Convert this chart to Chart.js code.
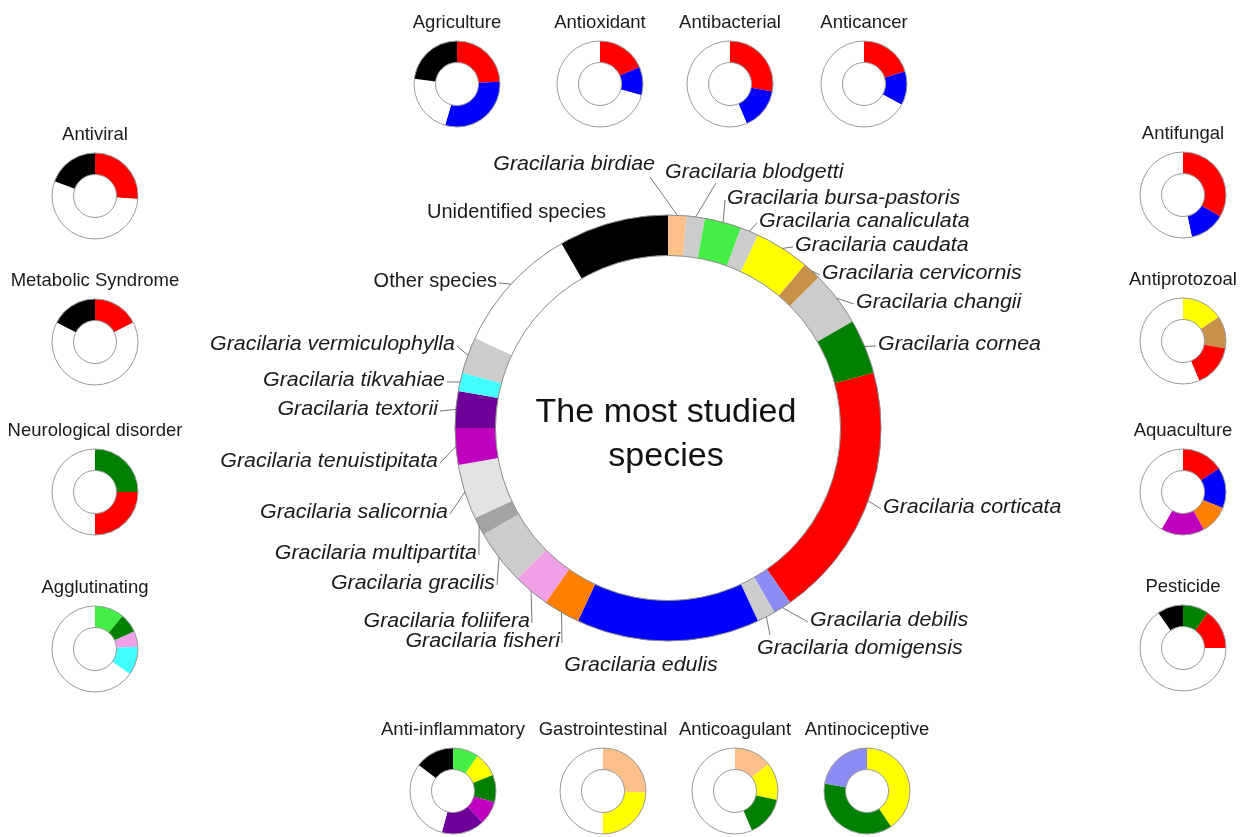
<!DOCTYPE html>
<html><head><meta charset="utf-8">
<script src="https://cdn.jsdelivr.net/npm/chart.js@4.4.1/dist/chart.umd.min.js"></script>
<style>
html,body{margin:0;padding:0;background:#fff;width:1245px;height:837px;overflow:hidden;}
#main{position:absolute;left:0;top:0;}
.small{position:absolute;}
.ttl{position:absolute;width:240px;text-align:center;font:18.5px 'Liberation Sans',Arial,sans-serif;color:#1a1a1a;white-space:nowrap;line-height:20px;}
</style></head><body>
<canvas id="main" width="1245" height="837"></canvas>
<div id="smalls"></div>
<script>
// ---------- main ring data (number of studies per species) ----------
const speciesNames = ['Gracilaria birdiae','Gracilaria blodgetti','Gracilaria bursa-pastoris','Gracilaria canaliculata','Gracilaria caudata','Gracilaria cervicornis','Gracilaria changii','Gracilaria cornea','Gracilaria corticata','Gracilaria debilis','Gracilaria domigensis','Gracilaria edulis','Gracilaria fisheri','Gracilaria foliifera','Gracilaria gracilis','Gracilaria multipartita','Gracilaria salicornia','Gracilaria tenuistipitata','Gracilaria textorii','Gracilaria tikvahiae','Gracilaria vermiculophylla','Other species','Unidentified species'];
const speciesStudies = [1,1,2,1,3,1,3,3,14,1,1,10,2,2,3,1,3,2,2,1,2,7,6];
const speciesColors = ['#FBBF8A','#CCCCCC','#44EE44','#CCCCCC','#FFFF00','#C8914A','#CCCCCC','#008000','#FF0000','#8C8CF5','#CCCCCC','#0000FF','#FF7F00','#EFA0E6','#CCCCCC','#A3A3A3','#E3E3E3','#BF00BF','#6E0099','#44FFFF','#CCCCCC','#FFFFFF','#000000'];
const centerTitle = ['The most studied','species'];

// ---------- small rings: titles and shares (clockwise from top) ----------
const smallTitles = ['Agriculture','Antioxidant','Antibacterial','Anticancer','Antiviral','Metabolic Syndrome','Neurological disorder','Agglutinating','Antifungal','Antiprotozoal','Aquaculture','Pesticide','Anti-inflammatory','Gastrointestinal','Anticoagulant','Antinociceptive'];
const agricultureShares = [87,109,81,83];          const agricultureKeys = ['red','blue','none','black'];
const antioxidantShares = [67,38,255];             const antioxidantKeys = ['red','blue','none'];
const antibacterialShares = [100,57,203];          const antibacterialKeys = ['red','blue','none'];
const anticancerShares = [73,46,241];              const anticancerKeys = ['red','blue','none'];
const antiviralShares = [94,196,70];               const antiviralKeys = ['red','none','black'];
const metabolicShares = [63,234,63];               const metabolicKeys = ['red','none','black'];
const neurologicalShares = [90,90,180];            const neurologicalKeys = ['dgreen','red','none'];
const agglutinatingShares = [40,26,21,39,234];     const agglutinatingKeys = ['lgreen','dgreen','pink','cyan','none'];
const antifungalShares = [120,48,192];             const antifungalKeys = ['red','blue','none'];
const antiprotozoalShares = [56,44,58,202];        const antiprotozoalKeys = ['yellow','brown','red','none'];
const aquacultureShares = [57,55,39,59,150];       const aquacultureKeys = ['red','blue','orange','magenta','none'];
const pesticideShares = [35,55,235,35];            const pesticideKeys = ['dgreen','red','none','black'];
const antiInflammatoryShares = [35,33,37,32,58,112,53]; const antiInflammatoryKeys = ['lgreen','yellow','dgreen','magenta','purple','none','black'];
const gastrointestinalShares = [92,88,180];        const gastrointestinalKeys = ['peach','yellow','none'];
const anticoagulantShares = [51,51,55,203];        const anticoagulantKeys = ['peach','yellow','dgreen','none'];
const antinociceptiveShares = [146,134,80];        const antinociceptiveKeys = ['yellow','dgreen','lavender'];

const smallShares = [agricultureShares,antioxidantShares,antibacterialShares,anticancerShares,antiviralShares,metabolicShares,neurologicalShares,agglutinatingShares,antifungalShares,antiprotozoalShares,aquacultureShares,pesticideShares,antiInflammatoryShares,gastrointestinalShares,anticoagulantShares,antinociceptiveShares];
const smallKeys = [agricultureKeys,antioxidantKeys,antibacterialKeys,anticancerKeys,antiviralKeys,metabolicKeys,neurologicalKeys,agglutinatingKeys,antifungalKeys,antiprotozoalKeys,aquacultureKeys,pesticideKeys,antiInflammatoryKeys,gastrointestinalKeys,anticoagulantKeys,antinociceptiveKeys];

// ---------- styles / layout ----------
const palette = {red:'#FF0000',blue:'#0000FF',black:'#000000',none:'#FFFFFF',dgreen:'#008000',lgreen:'#44EE44',pink:'#EFA0E6',cyan:'#44FFFF',yellow:'#FFFF00',brown:'#C8914A',orange:'#FF7F00',magenta:'#BF00BF',purple:'#6E0099',peach:'#FBBF8A',lavender:'#8C8CF5'};
const smallCenters = [[457,84],[600,84],[730,84],[864,84],[95,196],[95,342],[95,492],[95,649],[1183,195],[1183,341],[1183,492],[1183,648],[453,791],[603,791],[735,791],[867,791]];
// label placement: [x, y, align, lineEndX, lineEndY]  (null line end = no leader)
const labelLayout = [
 [655,164,'right',650,177],[665,172,'left',716,183],[727,198,'left'],[759,221,'left'],[795,245,'left'],
 [822,273,'left'],[856,302,'left'],[878,344,'left'],[883,507,'left'],[810,620,'left'],
 [757,648,'left',770,635],[641,665,'center',null],[560,641,'right'],[530,621,'right'],[495,583,'right'],
 [477,553,'right'],[448,512,'right'],[438,461,'right'],[438,409,'right'],[445,380,'right'],
 [455,344,'right'],[497,281,'right'],[606,212,'right',null]
];
const FONT = "'Liberation Sans', Arial, sans-serif";

const outlinePlugin = {
  id:'outline',
  afterDatasetsDraw(chart, args, opts){
    const arc = chart.getDatasetMeta(0).data[0];
    if(!arc) return;
    const ctx = chart.ctx;
    ctx.save();
    ctx.strokeStyle = opts.color || '#999';
    ctx.lineWidth = opts.width || 1;
    ctx.beginPath(); ctx.arc(arc.x, arc.y, arc.outerRadius, 0, Math.PI*2); ctx.stroke();
    ctx.beginPath(); ctx.arc(arc.x, arc.y, arc.innerRadius, 0, Math.PI*2); ctx.stroke();
    ctx.restore();
  }
};

const labelPlugin = {
  id:'speciesLabels',
  afterDraw(chart){
    const ctx = chart.ctx;
    const arcs = chart.getDatasetMeta(0).data;
    ctx.save();
    // leader lines
    ctx.strokeStyle = '#555'; ctx.lineWidth = 0.8;
    arcs.forEach((a,i)=>{
      const L = labelLayout[i];
      if(L.length===4 || (L.length>3 && L[3]===null)) return;
      const mid = (a.startAngle + a.endAngle)/2;
      const sx = a.x + Math.cos(mid)*a.outerRadius, sy = a.y + Math.sin(mid)*a.outerRadius;
      let ex, ey;
      if(L.length>=5){ ex=L[3]; ey=L[4]; }
      else if(L[2]==='left'){ ex=L[0]-2; ey=L[1]+2; }
      else { ex=L[0]+2; ey=L[1]+2; }
      ctx.beginPath(); ctx.moveTo(sx,sy); ctx.lineTo(ex,ey); ctx.stroke();
    });
    // texts
    ctx.fillStyle = '#1a1a1a'; ctx.textBaseline = 'middle';
    arcs.forEach((a,i)=>{
      const L = labelLayout[i];
      const italic = speciesNames[i].startsWith('Gracilaria');
      ctx.font = (italic ? 'italic ' : '') + (italic ? '20px ' : '20px ') + FONT;
      ctx.textAlign = L[2];
      ctx.save();
      ctx.translate(L[0], L[1]);
      ctx.scale(italic ? 1.07 : 1.0, 1);
      ctx.fillText(speciesNames[i], 0, 0);
      ctx.restore();
    });
    // center title
    const c = arcs[0];
    ctx.font = '34px ' + FONT; ctx.textAlign = 'center'; ctx.fillStyle = '#111';
    ctx.fillText(centerTitle[0], c.x - 2, c.y - 15);
    ctx.fillText(centerTitle[1], c.x - 2, c.y + 29);
    ctx.restore();
  }
};

new Chart(document.getElementById('main'), {
  type:'doughnut',
  data:{ labels:speciesNames, datasets:[{ data:speciesStudies, backgroundColor:speciesColors, borderWidth:0 }] },
  options:{
    responsive:false, animation:false, events:[], devicePixelRatio:1,
    cutout:'81%',
    layout:{ padding:{ left:455, right:364, top:215, bottom:196 } },
    plugins:{ legend:{display:false}, tooltip:{enabled:false}, outline:{color:'#8a8a8a', width:1} }
  },
  plugins:[outlinePlugin, labelPlugin]
});

const holder = document.getElementById('smalls');
smallTitles.forEach((t,i)=>{
  const [cx,cy] = smallCenters[i];
  const cv = document.createElement('canvas');
  cv.width = 100; cv.height = 100; cv.className = 'small';
  cv.style.left = (cx-50)+'px'; cv.style.top = (cy-50)+'px';
  holder.appendChild(cv);
  const tt = document.createElement('div');
  tt.className = 'ttl'; tt.textContent = t;
  tt.style.left = (cx-120)+'px'; tt.style.top = (cy-62-10)+'px';
  holder.appendChild(tt);
  new Chart(cv, {
    type:'doughnut',
    data:{ labels:smallKeys[i], datasets:[{ data:smallShares[i], backgroundColor:smallKeys[i].map(k=>palette[k]), borderWidth:0 }] },
    options:{
      responsive:false, animation:false, events:[], devicePixelRatio:1,
      cutout:'50%',
      layout:{ padding:7 },
      plugins:{ legend:{display:false}, tooltip:{enabled:false}, outline:{color:'#9a9a9a', width:1} }
    },
    plugins:[outlinePlugin]
  });
});
</script>
</body></html>
